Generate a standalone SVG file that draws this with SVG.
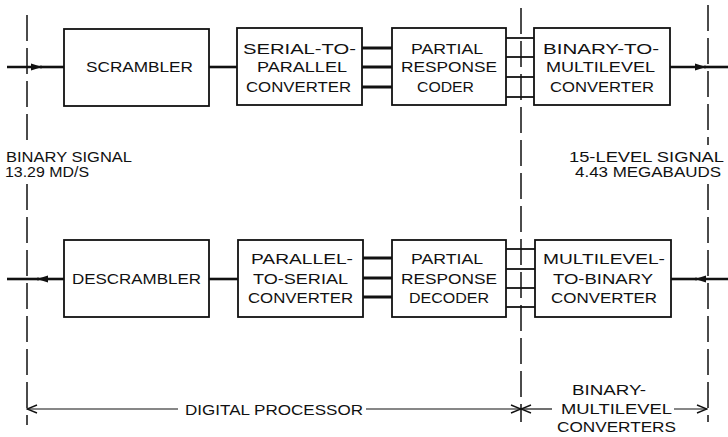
<svg xmlns="http://www.w3.org/2000/svg" width="728" height="437" viewBox="0 0 728 437">
<defs>
<style>
.box{fill:#fff;stroke:#111;stroke-width:1.8}
.t{font-family:"Liberation Sans",Arial,sans-serif;font-size:15px;fill:#111}
.s{font-family:"Liberation Sans",Arial,sans-serif;font-size:14px;fill:#111}
.sig{stroke:#111;stroke-width:2.6;fill:none}
.bus{stroke:#111;stroke-width:3;fill:none}
.bus2{stroke:#111;stroke-width:1.8;fill:none}
.dash{stroke:#111;stroke-width:1.5;stroke-dasharray:26 7;fill:none}
.dim{stroke:#111;stroke-width:1.2;fill:none}
</style>
<marker id="ah" markerUnits="userSpaceOnUse" markerWidth="12" markerHeight="8" refX="11" refY="4" orient="auto">
<path d="M0,0.5 L11,4 L0,7.5 Z" fill="#111"/>
</marker>
<marker id="oh" markerUnits="userSpaceOnUse" markerWidth="12" markerHeight="10" refX="11" refY="5" orient="auto">
<path d="M1,1 L11,5 L1,9" fill="none" stroke="#111" stroke-width="1.4"/>
</marker>
</defs>
<rect width="728" height="437" fill="#fff"/>

<g id="boundaries">
<line class="dash" x1="27" y1="15" x2="27" y2="145"/>
<line class="dash" x1="27" y1="184" x2="27" y2="425"/>
<line class="dash" x1="521" y1="8" x2="521" y2="422"/>
<line class="dash" x1="708" y1="5" x2="708" y2="145"/>
<line class="dash" x1="708" y1="184" x2="708" y2="422"/>
</g>

<g id="connectors">
<line class="sig" x1="7" y1="67" x2="42" y2="67" marker-end="url(#ah)"/>
<line class="sig" x1="40" y1="67" x2="64" y2="67"/>
<line class="sig" x1="209" y1="67" x2="237" y2="67"/>
<line class="bus" x1="362" y1="48" x2="392" y2="48"/>
<line class="bus" x1="362" y1="67" x2="392" y2="67"/>
<line class="bus" x1="362" y1="87" x2="392" y2="87"/>
<line class="bus2" x1="506" y1="38" x2="534" y2="38"/>
<line class="bus2" x1="506" y1="57" x2="534" y2="57"/>
<line class="bus2" x1="506" y1="77" x2="534" y2="77"/>
<line class="bus2" x1="506" y1="97" x2="534" y2="97"/>
<line class="sig" x1="670" y1="67" x2="706" y2="67" marker-end="url(#ah)"/>
<line class="sig" x1="704" y1="67" x2="728" y2="67"/>

<line class="sig" x1="728" y1="279" x2="695" y2="279" marker-end="url(#ah)"/>
<line class="sig" x1="697" y1="279" x2="671" y2="279"/>
<line class="bus2" x1="506" y1="249" x2="535" y2="249"/>
<line class="bus2" x1="506" y1="269" x2="535" y2="269"/>
<line class="bus2" x1="506" y1="288" x2="535" y2="288"/>
<line class="bus2" x1="506" y1="307" x2="535" y2="307"/>
<line class="bus" x1="363" y1="258" x2="392" y2="258"/>
<line class="bus" x1="363" y1="278" x2="392" y2="278"/>
<line class="bus" x1="363" y1="297" x2="392" y2="297"/>
<line class="sig" x1="209" y1="279" x2="238" y2="279"/>
<line class="sig" x1="64" y1="279" x2="37" y2="279" marker-end="url(#ah)"/>
<line class="sig" x1="39" y1="279" x2="7" y2="279"/>

<line class="dim" x1="178" y1="409" x2="27" y2="409" marker-end="url(#oh)"/>
<line class="dim" x1="366" y1="409" x2="521" y2="409" marker-end="url(#oh)"/>
<line class="dim" x1="552" y1="409" x2="521" y2="409" marker-end="url(#oh)"/>
<line class="dim" x1="674" y1="409" x2="707" y2="409" marker-end="url(#oh)"/>
</g>

<g id="scrambler">
<rect class="box" x="64" y="29" width="145" height="77"/>
<text class="t" x="86" y="72" textLength="107" lengthAdjust="spacingAndGlyphs">SCRAMBLER</text>
</g>
<g id="serial-to-parallel">
<rect class="box" x="237" y="28" width="125" height="77"/>
<text class="t" x="243" y="54" textLength="113" lengthAdjust="spacingAndGlyphs">SERIAL-TO-</text>
<text class="t" x="257" y="72" textLength="90" lengthAdjust="spacingAndGlyphs">PARALLEL</text>
<text class="t" x="246" y="92" textLength="105" lengthAdjust="spacingAndGlyphs">CONVERTER</text>
</g>
<g id="partial-response-coder">
<rect class="box" x="392" y="28" width="114" height="77"/>
<text class="t" x="411" y="54" textLength="72" lengthAdjust="spacingAndGlyphs">PARTIAL</text>
<text class="t" x="401" y="72" textLength="96" lengthAdjust="spacingAndGlyphs">RESPONSE</text>
<text class="t" x="417" y="92" textLength="57" lengthAdjust="spacingAndGlyphs">CODER</text>
</g>
<g id="binary-to-multilevel">
<rect class="box" x="534" y="28" width="136" height="77"/>
<text class="t" x="543" y="54" textLength="116" lengthAdjust="spacingAndGlyphs">BINARY-TO-</text>
<text class="t" x="546" y="72" textLength="109" lengthAdjust="spacingAndGlyphs">MULTILEVEL</text>
<text class="t" x="550" y="92" textLength="104" lengthAdjust="spacingAndGlyphs">CONVERTER</text>
</g>

<g id="descrambler">
<rect class="box" x="64" y="240" width="145" height="77"/>
<text class="t" x="72" y="284" textLength="129" lengthAdjust="spacingAndGlyphs">DESCRAMBLER</text>
</g>
<g id="parallel-to-serial">
<rect class="box" x="238" y="240" width="125" height="77"/>
<text class="t" x="251" y="264" textLength="102" lengthAdjust="spacingAndGlyphs">PARALLEL-</text>
<text class="t" x="253" y="284" textLength="95" lengthAdjust="spacingAndGlyphs">TO-SERIAL</text>
<text class="t" x="248" y="303" textLength="105" lengthAdjust="spacingAndGlyphs">CONVERTER</text>
</g>
<g id="partial-response-decoder">
<rect class="box" x="392" y="240" width="114" height="77"/>
<text class="t" x="411" y="264" textLength="72" lengthAdjust="spacingAndGlyphs">PARTIAL</text>
<text class="t" x="401" y="284" textLength="96" lengthAdjust="spacingAndGlyphs">RESPONSE</text>
<text class="t" x="409" y="303" textLength="80" lengthAdjust="spacingAndGlyphs">DECODER</text>
</g>
<g id="multilevel-to-binary">
<rect class="box" x="535" y="240" width="136" height="77"/>
<text class="t" x="543" y="264" textLength="122" lengthAdjust="spacingAndGlyphs">MULTILEVEL-</text>
<text class="t" x="553" y="284" textLength="100" lengthAdjust="spacingAndGlyphs">TO-BINARY</text>
<text class="t" x="551" y="303" textLength="106" lengthAdjust="spacingAndGlyphs">CONVERTER</text>
</g>

<g id="labels">
<text class="s" x="6" y="162" textLength="126" lengthAdjust="spacingAndGlyphs">BINARY SIGNAL</text>
<text class="s" x="5" y="177" textLength="84" lengthAdjust="spacingAndGlyphs">13.29 MD/S</text>
<text class="s" x="569" y="162" textLength="155" lengthAdjust="spacingAndGlyphs">15-LEVEL SIGNAL</text>
<text class="s" x="575" y="177" textLength="146" lengthAdjust="spacingAndGlyphs">4.43 MEGABAUDS</text>
<text class="t" x="185" y="415" textLength="178" lengthAdjust="spacingAndGlyphs">DIGITAL PROCESSOR</text>
<text class="t" x="572" y="395" textLength="74" lengthAdjust="spacingAndGlyphs">BINARY-</text>
<text class="t" x="561" y="414" textLength="111" lengthAdjust="spacingAndGlyphs">MULTILEVEL</text>
<text class="t" x="557" y="432" textLength="119" lengthAdjust="spacingAndGlyphs">CONVERTERS</text>
</g>
</svg>
